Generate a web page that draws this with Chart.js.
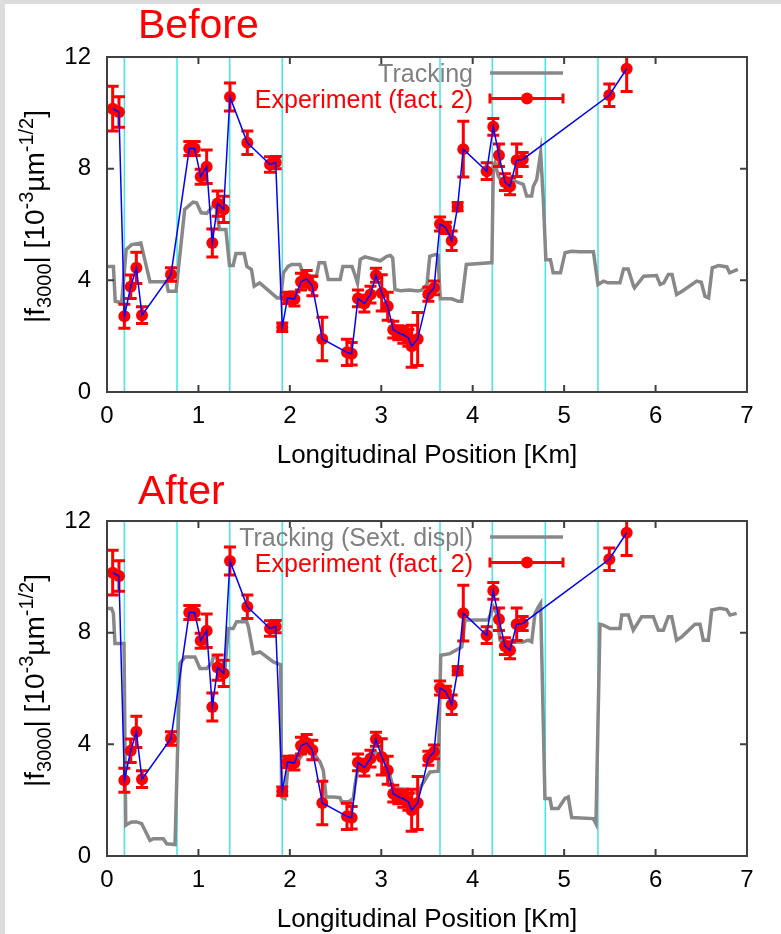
<!DOCTYPE html>
<html>
<head>
<meta charset="utf-8">
<script src="https://cdn.jsdelivr.net/npm/chart.js@4.4.1/dist/chart.umd.min.js"></script>
<style>
  body { margin: 0; background: #dcdcdc; width: 781px; height: 934px; overflow: hidden; position: relative; }
  #sheet { position: absolute; left: 5px; top: 4px; width: 776px; height: 930px; background: #fff; }
  .panel { position: absolute; left: 0; width: 781px; }
</style>
</head>
<body>
<div id="sheet"></div>
<div class="panel" style="top:0;height:470px"><canvas id="beforeChart" width="781" height="470"></canvas></div>
<div class="panel" style="top:466px;height:468px"><canvas id="afterChart" width="781" height="468"></canvas></div>
<script>
const FONT = '"Liberation Sans", Arial, Helvetica, sans-serif';

// Measured data (same in both panels)
const expX = [0.062, 0.131, 0.19, 0.259, 0.321, 0.383, 0.70, 0.90, 0.959, 1.025, 1.09, 1.152, 1.21, 1.276, 1.345,
  1.535, 1.783, 1.845, 1.917, 1.975, 2.05, 2.122, 2.184, 2.246, 2.355, 2.625, 2.676, 2.745, 2.815, 2.882, 2.942,
  3.005, 3.07, 3.131, 3.186, 3.241, 3.296, 3.332, 3.398, 3.515, 3.577, 3.642, 3.708, 3.77, 3.835, 3.897, 4.153,
  4.225, 4.287, 4.353, 4.408, 4.481, 4.547, 5.494, 5.684];
const expY = [10.15, 10.03, 2.71, 3.77, 4.45, 2.75, 4.21, 8.72, 8.72, 7.71, 8.07, 5.34, 6.75, 6.54, 10.57,
  8.93, 8.15, 8.22, 2.32, 3.37, 3.33, 3.95, 4.05, 3.8, 1.9, 1.42, 1.37, 3.35, 3.17, 3.49, 4.18,
  3.55, 3.07, 2.23, 2.12, 2.05, 1.94, 1.64, 1.9, 3.5, 3.73, 6.02, 5.88, 5.42, 6.64, 8.7, 7.91,
  9.5, 8.48, 7.52, 7.37, 8.3, 8.33, 10.63, 11.58];
const expErr = [0.8, 0.55, 0.43, 0.42, 0.56, 0.3, 0.24, 0.25, 0.25, 0.27, 0.6, 0.5, 0.45, 0.47, 0.5,
  0.42, 0.28, 0.22, 0.15, 0.2, 0.25, 0.3, 0.3, 0.35, 0.78, 0.47, 0.4, 0.3, 0.3, 0.3, 0.25,
  0.65, 0.5, 0.3, 0.25, 0.3, 0.3, 0.75, 0.95, 0.25, 0.25, 0.25, 0.2, 0.35, 0.15, 1.0, 0.3,
  0.3, 0.4, 0.3, 0.3, 0.58, 0.25, 0.4, 0.82];

// Tracking before correction
const trackBeforeX = [0, 0.07, 0.09, 0.16, 0.21, 0.27, 0.37, 0.47, 0.65, 0.67, 0.755, 0.80, 0.85, 0.94, 0.98, 1.03,
  1.09, 1.16, 1.19, 1.23, 1.30, 1.34, 1.38, 1.41, 1.50, 1.53, 1.58, 1.61, 1.67, 1.86, 1.90, 1.93, 1.98, 2.02, 2.11,
  2.15, 2.29, 2.32, 2.38, 2.42, 2.55, 2.58, 2.68, 2.71, 2.74, 2.77, 2.82, 2.99, 3.06, 3.10, 3.125, 3.15, 3.21, 3.31,
  3.40, 3.44, 3.50, 3.53, 3.59, 3.62, 3.645, 3.77, 3.84, 3.88, 3.93, 4.19, 4.21, 4.225, 4.244, 4.28, 4.334, 4.462,
  4.553, 4.59, 4.645, 4.663, 4.70, 4.743, 4.772, 4.80, 4.85, 4.88, 4.96, 5.01, 5.08, 5.17, 5.32, 5.37, 5.43, 5.48,
  5.61, 5.65, 5.70, 5.76, 5.77, 5.87, 6.01, 6.05, 6.09, 6.14, 6.18, 6.23, 6.29, 6.45, 6.50, 6.54, 6.58, 6.62, 6.69,
  6.78, 6.81, 6.90];
const trackBeforeY = [4.5, 4.5, 3.25, 3.2, 5.1, 5.28, 5.34, 3.95, 3.95, 3.61, 3.61, 5.0, 6.54, 6.8, 6.78, 6.42,
  6.4, 6.66, 6.66, 5.82, 5.82, 4.53, 4.53, 4.96, 4.96, 4.5, 4.39, 3.79, 3.91, 3.37, 3.37, 4.27, 4.5, 4.57, 4.57,
  4.15, 4.15, 4.63, 4.63, 4.03, 4.03, 4.5, 4.5, 4.21, 3.9, 4.75, 4.84, 4.7, 4.86, 4.89, 4.8, 3.67, 3.63, 3.65,
  3.62, 3.65, 3.85, 4.86, 4.92, 4.9, 3.34, 3.34, 3.25, 3.25, 4.57, 4.63, 4.63, 8.09, 8.21, 7.73, 7.44, 7.55,
  7.44, 7.02, 7.02, 7.37, 7.61, 8.57, 6.9, 4.74, 4.74, 4.27, 4.27, 4.99, 5.04, 5.02, 5.02, 3.85, 3.97, 3.91,
  3.91, 4.41, 4.41, 3.79, 3.73, 4.15, 4.17, 3.85, 3.91, 4.21, 4.21, 3.49, 3.61, 3.97, 3.93, 3.43, 3.37, 4.45, 4.53,
  4.48, 4.27, 4.39];

// Tracking with sextupole displacement
const trackAfterX = [0, 0.05, 0.07, 0.087, 0.186, 0.205, 0.233, 0.27, 0.325, 0.379, 0.434, 0.47, 0.507, 0.616,
  0.653, 0.744, 0.798, 0.853, 0.962, 1.017, 1.09, 1.145, 1.163, 1.2, 1.217, 1.29, 1.327, 1.38, 1.418, 1.528,
  1.546, 1.6, 1.673, 1.82, 1.9, 1.91, 1.947, 1.983, 2.038, 2.093, 2.147, 2.22, 2.275, 2.33, 2.366, 2.396, 2.475,
  2.548, 2.567, 2.64, 2.694, 2.712, 2.749, 2.803, 2.877, 2.931, 2.986, 3.04, 3.095, 3.131, 3.314, 3.35, 3.405,
  3.442, 3.497, 3.533, 3.624, 3.65, 3.751, 3.88, 3.916, 4.17, 4.225, 4.262, 4.298, 4.372, 4.553, 4.608, 4.645,
  4.681, 4.718, 4.743, 4.79, 4.845, 4.864, 4.936, 5.009, 5.045, 5.082, 5.319, 5.348, 5.392, 5.428, 5.502, 5.611,
  5.63, 5.702, 5.756, 5.848, 5.975, 6.03, 6.085, 6.139, 6.176, 6.23, 6.286, 6.431, 6.486, 6.522, 6.577, 6.614,
  6.705, 6.778, 6.814, 6.887];
const trackAfterY = [8.87, 8.87, 8.69, 7.61, 7.61, 1.1, 1.16, 1.22, 1.22, 1.16, 0.8, 0.56, 0.62, 0.62,
  0.44, 0.41, 6.9, 7.13, 7.13, 6.72, 6.72, 6.9, 7.13, 7.13, 6.72, 6.72, 8.15, 8.15, 8.39, 8.39,
  8.21, 7.25, 7.31, 6.95, 6.85, 2.11, 2.06, 3.31, 3.37, 3.43, 3.67, 3.79, 3.61, 3.37, 3.07, 2.11, 2.11,
  2.09, 1.94, 1.94, 2.06, 2.53, 3.25, 3.31, 3.55, 3.73, 3.6, 3.35, 2.89, 2.42, 2.38, 2.29, 2.24,
  2.53, 2.83, 3.01, 3.04, 7.19, 7.25, 7.49, 8.45, 8.45, 8.92, 8.69, 7.73, 7.67, 7.67, 7.73, 7.67,
  8.69, 8.92, 9.05, 2.06, 2.06, 1.7, 1.7, 2.06, 2.11, 1.38, 1.34, 1.16, 8.3, 8.27, 8.15, 8.15,
  8.63, 8.63, 8.09, 8.57, 8.57, 8.09, 8.09, 8.57, 8.57, 7.73, 7.85, 8.3, 8.3, 7.73, 7.73, 8.81,
  8.87, 8.83, 8.63, 8.69];

const cyanLines = [0.19, 0.766, 1.342, 1.917, 3.642, 4.214, 4.794, 5.37];
const xTickValues = [0, 1, 2, 3, 4, 5, 6, 7];
const yTickValues = [0, 4, 8, 12];

function toPoints(xs, ys) {
    return xs.map((x, i) => ({ x: x, y: ys[i] }));
}

const errorBars = {
    id: 'errorBars',
    beforeDatasetDraw(chart, args) {
        const ds = chart.data.datasets[args.index];
        if (!ds.errors) return;
        const { ctx, chartArea, scales: { x, y } } = chart;
        ctx.save();
        ctx.beginPath();
        ctx.rect(chartArea.left, chartArea.top, chartArea.width, chartArea.height);
        ctx.clip();
        ctx.strokeStyle = '#ff0000';
        ctx.lineWidth = 3;
        ds.data.forEach((p, i) => {
            const px = x.getPixelForValue(p.x);
            const top = y.getPixelForValue(p.y + ds.errors[i]);
            const bot = y.getPixelForValue(p.y - ds.errors[i]);
            ctx.beginPath();
            ctx.moveTo(px, top); ctx.lineTo(px, bot);
            ctx.moveTo(px - 6, top); ctx.lineTo(px + 6, top);
            ctx.moveTo(px - 6, bot); ctx.lineTo(px + 6, bot);
            ctx.stroke();
        });
        ctx.restore();
    }
};

const decorations = {
    id: 'decorations',
    beforeDatasetsDraw(chart) {
        const { ctx, chartArea: a, scales: { x } } = chart;
        ctx.save();
        ctx.strokeStyle = '#48e3e3';
        ctx.lineWidth = 1.5;
        cyanLines.forEach(v => {
            const px = x.getPixelForValue(v);
            ctx.beginPath(); ctx.moveTo(px, a.top); ctx.lineTo(px, a.bottom); ctx.stroke();
        });
        ctx.restore();
    },
    afterDatasetsDraw(chart) {
        const { ctx, chartArea: a, scales: { x, y } } = chart;
        ctx.save();
        ctx.strokeStyle = '#404040';
        ctx.lineWidth = 2;
        ctx.strokeRect(a.left, a.top, a.width, a.height);
        ctx.beginPath();
        xTickValues.forEach(v => {
            const px = x.getPixelForValue(v);
            ctx.moveTo(px, a.bottom); ctx.lineTo(px, a.bottom - 7);
            ctx.moveTo(px, a.top); ctx.lineTo(px, a.top + 7);
        });
        yTickValues.forEach(v => {
            const py = y.getPixelForValue(v);
            ctx.moveTo(a.left, py); ctx.lineTo(a.left + 7, py);
            ctx.moveTo(a.right, py); ctx.lineTo(a.right - 7, py);
        });
        ctx.stroke();
        ctx.restore();
    },
    afterDraw(chart) {
        const { ctx, chartArea: a } = chart;
        const opts = chart.options.plugins.decorations;
        ctx.save();
        // panel title
        ctx.fillStyle = '#ff0000';
        ctx.font = '41px ' + FONT;
        ctx.textAlign = 'left';
        ctx.textBaseline = 'alphabetic';
        ctx.fillText(opts.title, 138, 38);

        // x axis title
        ctx.fillStyle = '#000';
        ctx.font = '26px ' + FONT;
        ctx.textAlign = 'center';
        ctx.fillText('Longitudinal Position [Km]', (a.left + a.right) / 2, a.bottom + 71);

        // y axis title with sub/superscripts
        const parts = [
            { t: '|f', s: 28, dy: 0 },
            { t: '3000', s: 20, dy: 7 },
            { t: '| [10', s: 28, dy: 0 },
            { t: '-3', s: 20, dy: -11 },
            { t: '\u00b5m', s: 28, dy: 0 },
            { t: '-1/2', s: 20, dy: -11 },
            { t: ']', s: 28, dy: 0 }
        ];
        ctx.translate(44, (a.top + a.bottom) / 2 - 8);
        ctx.rotate(-Math.PI / 2);
        ctx.textAlign = 'left';
        let total = 0;
        parts.forEach(p => { ctx.font = p.s + 'px ' + FONT; p.w = ctx.measureText(p.t).width; total += p.w; });
        let cx = -total / 2;
        parts.forEach(p => { ctx.font = p.s + 'px ' + FONT; ctx.fillText(p.t, cx, p.dy); cx += p.w; });
        ctx.restore();

        // legend
        ctx.save();
        ctx.font = '25px ' + FONT;
        ctx.textAlign = 'right';
        const y1 = a.top + 16, y2 = a.top + 41.5;
        ctx.fillStyle = '#808080';
        ctx.fillText(opts.trackLabel, 473, y1 + 9);
        ctx.fillStyle = '#ff0000';
        ctx.fillText('Experiment (fact. 2)', 473, y2 + 9);
        ctx.strokeStyle = '#888888';
        ctx.lineWidth = 3.5;
        ctx.beginPath(); ctx.moveTo(490, y1); ctx.lineTo(563, y1); ctx.stroke();
        ctx.strokeStyle = '#ff0000';
        ctx.lineWidth = 3;
        ctx.beginPath();
        ctx.moveTo(490, y2); ctx.lineTo(563, y2);
        ctx.moveTo(490, y2 - 5); ctx.lineTo(490, y2 + 5);
        ctx.moveTo(563, y2 - 5); ctx.lineTo(563, y2 + 5);
        ctx.stroke();
        ctx.fillStyle = '#ff0000';
        ctx.beginPath(); ctx.arc(527, y2, 6, 0, Math.PI * 2); ctx.fill();
        ctx.restore();
    }
};

function makePanel(canvasId, title, trackLabel, trackX, trackY, topPad, plotBottom) {
    const canvas = document.getElementById(canvasId);
    const H = canvas.height;
    return new Chart(canvas.getContext('2d'), {
        type: 'line',
        data: {
            datasets: [
                {
                    label: 'Experiment line',
                    data: toPoints(expX, expY),
                    borderColor: '#0000ff',
                    borderWidth: 1.5,
                    pointRadius: 0,
                    tension: 0
                },
                {
                    label: 'Experiment (fact. 2)',
                    data: toPoints(expX, expY),
                    errors: expErr,
                    showLine: false,
                    pointRadius: 6,
                    pointBorderWidth: 0,
                    pointBackgroundColor: '#ff0000',
                    borderColor: '#ff0000'
                },
                {
                    label: trackLabel,
                    data: toPoints(trackX, trackY),
                    borderColor: '#888888',
                    borderWidth: 3.5,
                    pointRadius: 0,
                    tension: 0
                }
            ]
        },
        options: {
            responsive: false,
            animation: false,
            layout: { padding: { top: topPad, right: 34, left: 0, bottom: 0 } },
            plugins: {
                legend: { display: false },
                tooltip: { enabled: false },
                decorations: { title: title, trackLabel: trackLabel }
            },
            scales: {
                x: {
                    type: 'linear',
                    min: 0,
                    max: 7,
                    grid: { display: false, drawTicks: false },
                    border: { display: false },
                    afterBuildTicks: s => { s.ticks = xTickValues.map(v => ({ value: v })); },
                    afterFit: s => { s.height = H - plotBottom; },
                    ticks: { color: '#000', padding: 10, maxRotation: 0, font: { family: FONT, size: 24 } }
                },
                y: {
                    min: 0,
                    max: 12,
                    grid: { display: false, drawTicks: false },
                    border: { display: false },
                    afterBuildTicks: s => { s.ticks = yTickValues.map(v => ({ value: v })); },
                    afterFit: s => { s.width = 107; },
                    ticks: { color: '#000', padding: 16, font: { family: FONT, size: 24 } }
                }
            }
        },
        plugins: [errorBars, decorations]
    });
}

makePanel('beforeChart', 'Before', 'Tracking', trackBeforeX, trackBeforeY, 57, 392);
makePanel('afterChart', 'After', 'Tracking (Sext. displ)', trackAfterX, trackAfterY, 55, 390);
</script>
</body>
</html>
